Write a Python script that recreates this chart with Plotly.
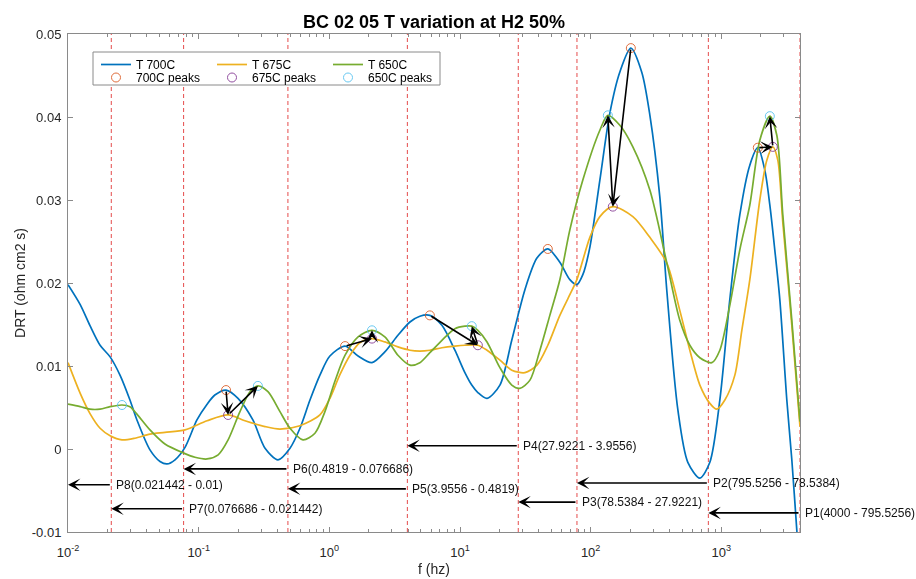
import numpy as np
import plotly.graph_objects as go

# ---------------- data ----------------
f_700 = [0.01, 0.0124, 0.0147, 0.0176, 0.0210, 0.0250, 0.0298, 0.0337, 0.0424, 0.0506,
         0.0572, 0.0659, 0.0786, 0.0970, 0.116, 0.133, 0.162, 0.200, 0.260, 0.322,
         0.405, 0.500, 0.596, 0.711, 0.847, 1.01, 1.32, 1.66, 2.12, 2.66,
         3.35, 4.14, 4.93, 5.88, 7.27, 9.14, 10.9, 12.3, 13.7, 16.1,
         20.2, 24.9, 31.4, 38.8, 47.0, 58.1, 69.3, 78.4, 87.1, 98.6,
         117.6, 140.3, 167, 203, 246, 284, 338, 383, 465, 554,
         685, 817, 974, 1161, 1385, 1652, 1902, 2152, 2350, 2565,
         2803, 3171, 3463, 3782, 4000]
drt_700 = [0.0198, 0.0174, 0.0149, 0.0125, 0.0111, 0.0089, 0.0059, 0.0035, -0.0001, -0.0015,
           -0.0018, -0.0013, 0.0002, 0.0035, 0.0054, 0.0065, 0.0071, 0.0061, 0.0035, 0.0001,
           -0.0013, 0.0001, 0.0025, 0.0059, 0.0089, 0.0112, 0.0124, 0.0112, 0.0104, 0.0117,
           0.0137, 0.0153, 0.0160, 0.0161, 0.0149, 0.0119, 0.0092, 0.0077, 0.0068, 0.0061,
           0.0077, 0.0131, 0.0192, 0.0230, 0.0241, 0.0225, 0.0204, 0.0198, 0.0210, 0.0243,
           0.0324, 0.0405, 0.0454, 0.0483, 0.0454, 0.0402, 0.0304, 0.0190, 0.0047, -0.0016,
           -0.0035, -0.0016, 0.0059, 0.0180, 0.0282, 0.0342, 0.0363, 0.0336, 0.0294, 0.0240,
           0.0180, 0.0059, -0.0013, -0.0098, -0.0152]

f_675 = [0.01, 0.0124, 0.0147, 0.0176, 0.0210, 0.0259, 0.0325, 0.0424, 0.0552, 0.0786,
         0.116, 0.168, 0.226, 0.322, 0.419, 0.596, 0.847, 1.01, 1.20, 1.44,
         1.71, 2.12, 2.66, 3.35, 4.14, 4.93, 5.88, 7.27, 9.14, 10.9,
         13.7, 16.1, 20.2, 24.9, 31.4, 38.8, 47.0, 58.1, 69.3, 78.4,
         98.6, 117.6, 147.8, 210.3, 283.8, 382.8, 481, 574, 685, 817,
         924, 1064, 1269, 1435, 1652, 1970, 2229, 2478, 2705, 2954,
         3463, 4000]
drt_675 = [0.0104, 0.0067, 0.0043, 0.0025, 0.0016, 0.0011, 0.0013, 0.0018, 0.0020, 0.0023,
           0.0034, 0.0041, 0.0034, 0.0027, 0.0024, 0.0028, 0.0041, 0.0061, 0.0089, 0.0113,
           0.0128, 0.0133, 0.0129, 0.0123, 0.0119, 0.0118, 0.0119, 0.0122, 0.0124, 0.0125,
           0.0125, 0.0119, 0.0107, 0.0095, 0.0092, 0.0101, 0.0125, 0.0161, 0.0186, 0.0204,
           0.0255, 0.0280, 0.0292, 0.0280, 0.0255, 0.0224, 0.0167, 0.0119, 0.0077, 0.0055,
           0.0048, 0.0059, 0.0089, 0.0143, 0.0204, 0.0300, 0.0348, 0.0364, 0.0348, 0.0273,
           0.0149, 0.0027]

f_650 = [0.01, 0.0124, 0.0147, 0.0176, 0.0210, 0.0259, 0.0298, 0.0337, 0.0424, 0.0552,
         0.0769, 0.0937, 0.116, 0.141, 0.168, 0.207, 0.247, 0.284, 0.339, 0.419,
         0.500, 0.628, 0.776, 0.925, 1.10, 1.32, 1.66, 2.12, 2.66, 3.35,
         4.14, 4.93, 5.88, 7.27, 9.14, 10.9, 12.3, 13.7, 16.1, 20.2,
         24.9, 28.7, 34.3, 40.9, 48.7, 58.1, 69.3, 87.1, 117.6, 135.4,
         167.3, 210.3, 283.8, 382.8, 481, 574, 685, 846, 974, 1161,
         1385, 1652, 1970, 2350, 2658, 2954, 3463, 4000]
drt_650 = [0.0054, 0.0051, 0.0048, 0.0048, 0.0051, 0.0053, 0.0051, 0.0042, 0.0023, 0.0006,
           -0.0005, -0.0010, -0.0012, -0.0007, 0.0011, 0.0045, 0.0069, 0.0076, 0.0069, 0.0045,
           0.0025, 0.0011, 0.0019, 0.0045, 0.0081, 0.0113, 0.0135, 0.0143, 0.0135, 0.0113,
           0.0101, 0.0104, 0.0116, 0.0131, 0.0145, 0.0148, 0.0148, 0.0143, 0.0129, 0.0098,
           0.0077, 0.0073, 0.0083, 0.0119, 0.0161, 0.0204, 0.0264, 0.0324, 0.0384, 0.0402,
           0.0390, 0.0364, 0.0312, 0.0224, 0.0155, 0.0125, 0.0110, 0.0104, 0.0119, 0.0173,
           0.0240, 0.0294, 0.0372, 0.0401, 0.0378, 0.0282, 0.0155, 0.0033]

peak_f_700 = [0.162, 1.32, 5.88, 47.0, 203, 1902]
peak_v_700 = [0.0071, 0.0124, 0.0161, 0.0241, 0.0483, 0.0363]
peak_f_675 = [0.168, 2.12, 13.7, 147.8, 2478]
peak_v_675 = [0.0041, 0.0133, 0.0125, 0.0292, 0.0364]
peak_f_650 = [0.0259, 0.284, 2.12, 12.3, 135.4, 2350]
peak_v_650 = [0.0053, 0.0076, 0.0143, 0.0148, 0.0402, 0.0401]

# peak-to-peak arrows (index pairs)
links_700_675 = [(0, 0), (1, 1), (2, 2), (4, 3), (5, 4)]
links_675_650 = [(0, 1), (1, 2), (2, 3), (3, 4), (4, 5)]

# frequency regions
bounds = [4000, 795.5256, 78.5384, 27.9221, 3.9556, 0.4819, 0.076686, 0.021442, 0.01]
region_names = ["P1", "P2", "P3", "P4", "P5", "P6", "P7", "P8"]
region_arrow_y = [-0.0077, -0.0041, -0.0064, 0.0004, -0.0048, -0.0024, -0.0072, -0.0043]

x_ticks = [0.01, 0.1, 1, 10, 100, 1000]
x_ticktext = ["10<sup>-2</sup>", "10<sup>-1</sup>", "10<sup>0</sup>", "10<sup>1</sup>",
              "10<sup>2</sup>", "10<sup>3</sup>"]
y_ticks = [-0.01, 0, 0.01, 0.02, 0.03, 0.04, 0.05]
y_ticktext = ["-0.01", "0", "0.01", "0.02", "0.03", "0.04", "0.05"]

# ---------------- styling ----------------
FONT = "Liberation Sans, Arial, Helvetica, sans-serif"
C700, C675, C650 = "#0072BD", "#EDB120", "#77AC30"
P700, P675, P650 = "#D95319", "#7E2F8E", "#4DBEEE"
AXC = "#8a8a8a"
W, H = 916, 579
ML, MR, MT, MB = 68, 116, 34, 47
PW, PH = W - ML - MR, H - MT - MB

def px_x(px):
    return (px - ML) / PW

def px_y(py):
    return 1 - (py - MT) / PH

fig = go.Figure()

# dashed region boundaries
for b in bounds[:-1]:
    fig.add_trace(go.Scatter(x=[b, b], y=[y_ticks[0], y_ticks[-1]], mode="lines",
                             line=dict(color="rgba(225,45,45,0.85)", width=1, dash="4px,3px"),
                             showlegend=False, hoverinfo="skip"))

for f, v, c, name in [(f_700, drt_700, C700, "T 700C"),
                      (f_675, drt_675, C675, "T 675C"),
                      (f_650, drt_650, C650, "T 650C")]:
    fig.add_trace(go.Scatter(x=f, y=v, mode="lines", name=name,
                             line=dict(color=c, width=1.7, shape="spline", smoothing=0.8),
                             legend="legend"))

for f, v, c, name in [(peak_f_700, peak_v_700, P700, "700C peaks"),
                      (peak_f_675, peak_v_675, P675, "675C peaks"),
                      (peak_f_650, peak_v_650, P650, "650C peaks")]:
    fig.add_trace(go.Scatter(x=f, y=v, mode="markers", name=name,
                             marker=dict(symbol="circle-open", size=9, color=c,
                                         line=dict(width=1, color=c)),
                             opacity=0.85, legend="legend2"))

annotations = []
arrow_style = dict(xref="x", yref="y", axref="x", ayref="y", showarrow=True,
                   arrowhead=3, arrowsize=1.3, arrowwidth=1.6, arrowcolor="black",
                   text="", standoff=0, startstandoff=0)

def add_arrow(f_tail, v_tail, f_head, v_head):
    d = dict(arrow_style)
    d.update(x=float(np.log10(f_head)), y=v_head, ax=float(np.log10(f_tail)), ay=v_tail)
    annotations.append(d)

for a, b in links_700_675:
    add_arrow(peak_f_700[a], peak_v_700[a], peak_f_675[b], peak_v_675[b])
for a, b in links_675_650:
    add_arrow(peak_f_675[a], peak_v_675[a], peak_f_650[b], peak_v_650[b])

for k, name in enumerate(region_names):
    hi, lo, yv = bounds[k], bounds[k + 1], region_arrow_y[k]
    add_arrow(hi, yv, lo, yv)
    annotations.append(dict(x=float(np.log10(hi)), y=yv, xref="x", yref="y",
                            text=f"{name}({hi} - {lo})", showarrow=False,
                            xanchor="left", yanchor="middle", xshift=3,
                            font=dict(family=FONT, size=12, color="#111111")))

fig.update_layout(
    width=W, height=H,
    margin=dict(l=ML, r=MR, t=MT, b=MB, pad=0),
    paper_bgcolor="white", plot_bgcolor="white",
    font=dict(family=FONT, size=13, color="#262626"),
    title=dict(text="<b>BC 02 05 T variation at H2 50%</b>", x=px_x(ML + PW / 2), xref="paper",
               xanchor="center", y=1 - 22 / H, yref="container", yanchor="middle",
               font=dict(family=FONT, size=18, color="#000000")),
    xaxis=dict(type="log", range=[np.log10(bounds[-1]), np.log10(bounds[0])],
               tickmode="array", tickvals=x_ticks, ticktext=x_ticktext,
               ticks="inside", ticklen=5, tickwidth=1, tickcolor=AXC,
               showline=True, linecolor=AXC, linewidth=1, mirror="ticks",
               showgrid=False, zeroline=False, ticklabelstandoff=8, automargin=False,
               tickfont=dict(family=FONT, size=13, color="#262626"),
               minor=dict(ticks="inside", ticklen=3, tickcolor=AXC, showgrid=False,
                          tickmode="array",
                          tickvals=[m * 10.0 ** e for e in range(-2, 4) for m in range(2, 10)
                                    if m * 10.0 ** e < bounds[0]]),
               title=dict(text="f (hz)", standoff=5,
                          font=dict(family=FONT, size=14, color="#262626"))),
    yaxis=dict(range=[y_ticks[0], y_ticks[-1]], tickmode="array", tickvals=y_ticks,
               ticktext=y_ticktext, ticks="inside", ticklen=5, tickwidth=1, tickcolor=AXC,
               showline=True, linecolor=AXC, linewidth=1, mirror="ticks",
               showgrid=False, zeroline=False, ticklabelstandoff=3, automargin=False,
               tickfont=dict(family=FONT, size=13, color="#262626"),
               title=dict(text="DRT (ohm cm2 s)", standoff=2,
                          font=dict(family=FONT, size=14, color="#262626"))),
    legend=dict(orientation="h", x=px_x(96), y=px_y(50), xanchor="left", yanchor="top",
                entrywidth=71, entrywidthmode="pixels", bgcolor="rgba(0,0,0,0)",
                borderwidth=0, font=dict(family=FONT, size=12, color="#000000"),
                itemwidth=30),
    legend2=dict(orientation="h", x=px_x(96), y=px_y(63), xanchor="left", yanchor="top",
                 entrywidth=71, entrywidthmode="pixels", bgcolor="rgba(0,0,0,0)",
                 borderwidth=0, font=dict(family=FONT, size=12, color="#000000"),
                 itemwidth=30),
    shapes=[dict(type="rect", xref="paper", yref="paper",
                 x0=px_x(93), x1=px_x(440), y0=px_y(85), y1=px_y(52),
                 line=dict(color="#8a8a8a", width=1), fillcolor="white", layer="above")],
    annotations=annotations,
    showlegend=True,
)

fig.write_html("out.html")
